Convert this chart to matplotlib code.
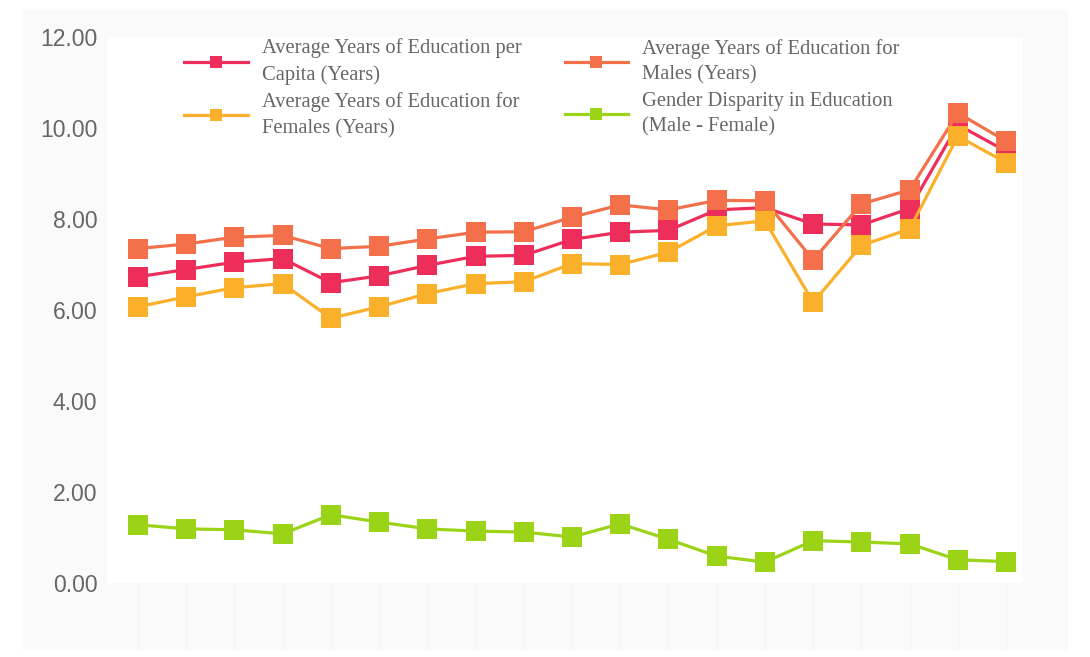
import matplotlib
matplotlib.use("Agg")
import matplotlib.pyplot as plt
from matplotlib.patches import Rectangle
from matplotlib.ticker import FormatStrFormatter

# 19 kolejnych obserwacji, os X bez podpisow
punkty = list(range(19))

per_capita = [6.73, 6.89, 7.05, 7.13, 6.60, 6.75, 6.98, 7.18, 7.20, 7.55,
              7.71, 7.75, 8.20, 8.25, 7.89, 7.87, 8.23, 10.07, 9.49]
males = [7.35, 7.45, 7.60, 7.64, 7.35, 7.40, 7.56, 7.71, 7.72, 8.04,
         8.31, 8.20, 8.41, 8.40, 7.10, 8.33, 8.64, 10.33, 9.71]
females = [6.07, 6.29, 6.49, 6.58, 5.82, 6.07, 6.36, 6.58, 6.62, 7.02,
           7.00, 7.27, 7.85, 7.96, 6.17, 7.42, 7.78, 9.82, 9.24]
disparity = [1.28, 1.19, 1.17, 1.08, 1.50, 1.34, 1.19, 1.14, 1.12, 1.01,
             1.30, 0.96, 0.59, 0.46, 0.93, 0.90, 0.86, 0.51, 0.47]

nazwy = ["Average Years of Education per\nCapita (Years)",
         "Average Years of Education for\nMales (Years)",
         "Average Years of Education for\nFemales (Years)",
         "Gender Disparity in Education\n(Male - Female)"]
kolory = ["#ee2e5a", "#f3704b", "#fbb02b", "#9bd317"]
y_ticks = [0, 2, 4, 6, 8, 10, 12]


def wykres():
    fig = plt.figure(figsize=(10.9, 6.57), dpi=100, facecolor="white")
    # jasnoszare tlo calej karty
    fig.patches.append(Rectangle((22 / 1090, 7 / 657), 1046 / 1090, 640 / 657,
                                 transform=fig.transFigure, facecolor="#fafafa",
                                 edgecolor="none", zorder=-10))
    ax = fig.add_axes([107 / 1090, 74 / 657, 916 / 1090, 546 / 657])
    ax.set_facecolor("white")

    linie = []
    for dane, kolor, nazwa in zip([per_capita, males, females, disparity], kolory, nazwy):
        l, = ax.plot(punkty, dane, color=kolor, lw=2.3, marker="s", markersize=15,
                     markeredgewidth=0, label=nazwa, clip_on=False)
        linie.append(l)

    ax.set_xlim(-0.64, 18.35)
    ax.set_ylim(0, 12)
    ax.set_yticks(y_ticks)
    ax.yaxis.set_major_formatter(FormatStrFormatter("%.2f"))
    ax.tick_params(axis="y", length=0, pad=7, labelsize=16.5, labelcolor="#666666")
    for t in ax.get_yticklabels():
        t.set_fontfamily("Liberation Sans")
    ax.set_xticks(punkty)
    ax.tick_params(axis="x", length=48, direction="out", color="#f4f4f4",
                   labelbottom=False)
    for s in ax.spines.values():
        s.set_visible(False)

    # legenda w dwoch kolumnach: per capita / kobiety, mezczyzni / roznica
    kolejnosc = [linie[0], linie[2], linie[1], linie[3]]
    leg = ax.legend(kolejnosc, [l.get_label() for l in kolejnosc], ncol=2,
                    loc="upper left", bbox_to_anchor=(0.064, 1.031), frameon=False,
                    prop={"family": "Liberation Serif", "size": 14.8},
                    handlelength=3.1, handletextpad=0.67, columnspacing=2.1,
                    labelspacing=0.35, markerscale=0.6, labelcolor="#666666")
    for t in leg.get_texts():
        t.set_linespacing(1.47)
    plt.savefig("out.png", dpi=100, facecolor=fig.get_facecolor())


def main():
    wykres()


if __name__ == "__main__":
    main()
